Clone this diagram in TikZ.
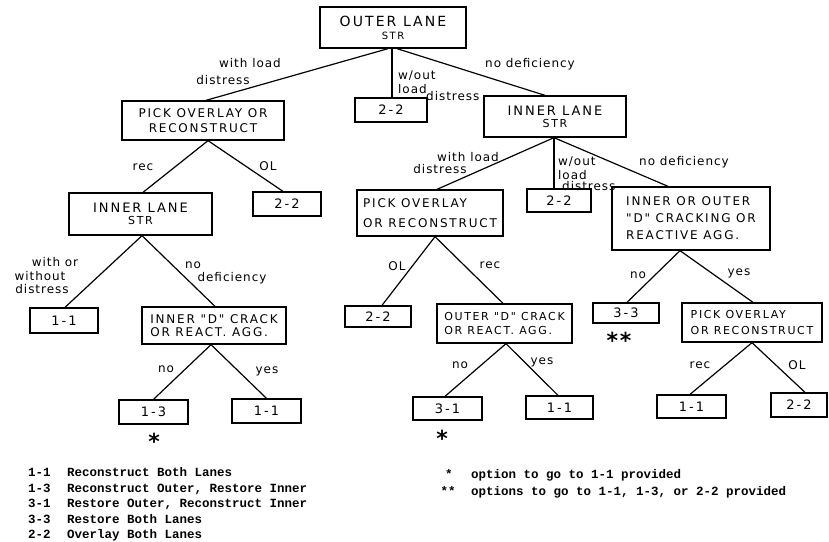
\documentclass[tikz,border=0pt]{standalone}
\usepackage{fontspec}
\newfontfamily\hwfont[LetterSpace=15]{DejaVu Sans}
\newfontfamily\lbfont[LetterSpace=8]{DejaVu Sans}
\newfontfamily\lgfont{Liberation Mono}
\tikzset{
  box/.style={draw, line width=1.3pt, inner sep=0pt, align=center,
    font={\hwfont\fontsize{12}{16}\selectfont}},
  boxl/.style={box, align=left},
  conn/.style={line width=1.2pt},
  lbl/.style={inner sep=0pt, font={\lbfont\fontsize{12}{14}\selectfont}},
  lblw/.style={lbl, anchor=west},
  ast/.style={inner sep=0pt, font={\lbfont\bfseries\fontsize{22}{22}\selectfont}},
  leg/.style={inner sep=0pt, anchor=base west, font={\lgfont\bfseries\fontsize{12.5}{14}\selectfont}}
}
\begin{document}
\begin{tikzpicture}[x=1pt,y=-1pt]
\useasboundingbox (0,0) rectangle (829,541);
\fill[white] (0,0) rectangle (829,541);

% level 0
\node[box, minimum width=146pt, minimum height=41pt, font={\hwfont\fontsize{14}{14}\selectfont}] (outer) at (393,27.5) {OUTER LANE\\[-1pt]{\fontsize{10}{12}\selectfont STR}};
% level 1
\node[box, minimum width=162pt, minimum height=39pt, font={\hwfont\fontsize{12}{15}\selectfont}] (pickL) at (203,120.5) {PICK OVERLAY OR\\RECONSTRUCT};
\node[box, minimum width=72pt, minimum height=24pt, font={\hwfont\fontsize{13}{15}\selectfont}] (top22) at (391,110) {2-2};
\node[box, minimum width=142pt, minimum height=41pt, font={\hwfont\fontsize{13}{13}\selectfont}] (innerR) at (555,116.5) {INNER LANE\\[-1pt]{\fontsize{11}{12}\selectfont STR}};
% level 2
\node[box, minimum width=143pt, minimum height=42pt, font={\hwfont\fontsize{13}{13}\selectfont}] (innerL) at (140.5,214) {INNER LANE\\[-1pt]{\fontsize{11}{12}\selectfont STR}};
\node[box, minimum width=68pt, minimum height=24pt, font={\hwfont\fontsize{13}{15}\selectfont}] (L22) at (287,204) {2-2};
\node[boxl, minimum width=146pt, minimum height=46pt, font={\hwfont\fontsize{12}{20}\selectfont}] (pickC) at (430,213) {PICK OVERLAY\\OR RECONSTRUCT};
\node[box, minimum width=64pt, minimum height=23pt, font={\hwfont\fontsize{13}{15}\selectfont}] (R22) at (559,200.5) {2-2};
\node[boxl, minimum width=158pt, minimum height=63pt, font={\hwfont\fontsize{12}{17}\selectfont}] (innerOuter) at (691,218.5) {INNER OR OUTER\\"D" CRACKING OR\\REACTIVE AGG.};
% level 3
\node[box, minimum width=68pt, minimum height=25pt, font={\hwfont\fontsize{13}{15}\selectfont}] (L11) at (64,320.5) {1-1};
\node[boxl, minimum width=144pt, minimum height=37pt, font={\hwfont\fontsize{12}{13}\selectfont}] (innerD) at (214,325.5) {INNER "D" CRACK\\OR REACT. AGG.};
\node[box, minimum width=66pt, minimum height=21pt, font={\hwfont\fontsize{13}{15}\selectfont}] (C22) at (378,316.5) {2-2};
\node[boxl, minimum width=135pt, minimum height=39pt, font={\hwfont\fontsize{11}{14}\selectfont}] (outerD) at (504.5,323.5) {OUTER "D" CRACK\\OR REACT. AGG.};
\node[box, minimum width=66pt, minimum height=20pt, font={\hwfont\fontsize{13}{15}\selectfont}] (B33) at (626,313) {3-3};
\node[boxl, minimum width=140pt, minimum height=39pt, font={\hwfont\fontsize{11}{16}\selectfont}] (pickR) at (752,322.5) {PICK OVERLAY\\OR RECONSTRUCT};
% level 4
\node[box, minimum width=69pt, minimum height=24pt, font={\hwfont\fontsize{13}{15}\selectfont}] (L13) at (153.5,412) {1-3};
\node[box, minimum width=69pt, minimum height=24pt, font={\hwfont\fontsize{13}{15}\selectfont}] (L11b) at (266.5,411) {1-1};
\node[box, minimum width=69pt, minimum height=23pt, font={\hwfont\fontsize{13}{15}\selectfont}] (B31) at (447.5,408.5) {3-1};
\node[box, minimum width=67pt, minimum height=23pt, font={\hwfont\fontsize{13}{15}\selectfont}] (B11) at (559.5,407.5) {1-1};
\node[box, minimum width=69pt, minimum height=23pt, font={\hwfont\fontsize{13}{15}\selectfont}] (R11) at (691.5,406.5) {1-1};
\node[box, minimum width=56pt, minimum height=24pt, font={\hwfont\fontsize{13}{15}\selectfont}] (R22b) at (799,405) {2-2};

% connectors
\draw[conn] ([xshift=-5pt]outer.south) -- ([xshift=3pt]pickL.north);
\draw[conn] ([xshift=-1pt]outer.south) -- ([xshift=1pt]top22.north);
\draw[conn] ([xshift=4pt]outer.south) -- ([xshift=-10pt]innerR.north);
\draw[conn] ([xshift=5pt]pickL.south) -- ([xshift=2.5pt]innerL.north);
\draw[conn] ([xshift=5pt]pickL.south) -- ([xshift=-4pt]L22.north);
\draw[conn] ([xshift=-1pt]innerR.south) -- ([xshift=7pt]pickC.north);
\draw[conn] ([xshift=-1pt]innerR.south) -- ([xshift=-5pt]R22.north);
\draw[conn] ([xshift=-1pt]innerR.south) -- ([xshift=-23pt]innerOuter.north);
\draw[conn] ([xshift=1.5pt]innerL.south) -- ([xshift=1pt]L11.north);
\draw[conn] ([xshift=1.5pt]innerL.south) -- ([xshift=1pt]innerD.north);
\draw[conn] ([xshift=5pt]pickC.south) -- ([xshift=4pt]C22.north);
\draw[conn] ([xshift=5pt]pickC.south) -- ([xshift=-1.5pt]outerD.north);
\draw[conn] ([xshift=-11pt]innerOuter.south) -- ([xshift=1pt]B33.north);
\draw[conn] ([xshift=-11pt]innerOuter.south) -- ([xshift=1pt]pickR.north);
\draw[conn] ([xshift=-3pt]innerD.south) -- (L13.north);
\draw[conn] ([xshift=-3pt]innerD.south) -- (L11b.north);
\draw[conn] ([xshift=1.5pt]outerD.south) -- ([xshift=-2.5pt]B31.north);
\draw[conn] ([xshift=1.5pt]outerD.south) -- ([xshift=-1.5pt]B11.north);
\draw[conn] (pickR.south) -- ([xshift=-1.5pt]R11.north);
\draw[conn] (pickR.south) -- ([xshift=6pt]R22b.north);

% labels
\node[lbl] (l1a) at (250,63) {with load};
\node[lbl] (l1b) at (223,80) {distress};
\node[lblw] (l2a) at (398,76) {w/out};
\node[lblw] (l2b) at (398,89) {load};
\node[lblw] (l2c) at (426,96) {distress};
\node[lbl] (l3) at (530,64) {no deficiency};
\node[lbl] (l4a) at (143,167) {rec};
\node[lbl] (l4b) at (268,166) {OL};
\node[lbl] (l5a) at (468,157) {with load};
\node[lbl] (l5b) at (440,169) {distress};
\node[lblw] (l6a) at (558,162) {w/out};
\node[lblw] (l6b) at (558,175) {load};
\node[lblw] (l6c) at (562,186) {distress};
\node[lbl] (l7) at (684,162) {no deficiency};
\node[lbl] (l8a) at (55,262) {with or};
\node[lbl] (l8b) at (40,276) {without};
\node[lbl] (l8c) at (42,289) {distress};
\node[lbl] (l9a) at (193,265) {no};
\node[lbl] (l9b) at (232,278) {deficiency};
\node[lbl] (l10a) at (397,266) {OL};
\node[lbl] (l10b) at (490,265) {rec};
\node[lbl] (l11a) at (638,275) {no};
\node[lbl] (l11b) at (739,273) {yes};
\node[lbl] (l12a) at (166,369) {no};
\node[lbl] (l12b) at (267,371) {yes};
\node[lbl] (l13a) at (460,365) {no};
\node[lbl] (l13b) at (542,362) {yes};
\node[lbl] (l14a) at (700,365) {rec};
\node[lbl] (l14b) at (797,365) {OL};
\node[ast] (s1) at (154,441) {*};
\node[ast] (s2) at (442,438) {*};
\node[ast] (s3) at (619,340) {**};

% legend
\node[leg] (c1) at (28,476) {1-1};
\node[leg] (d1) at (67,476) {Reconstruct Both Lanes};
\node[leg] (c2) at (28,492) {1-3};
\node[leg] (d2) at (67,492) {Reconstruct Outer, Restore Inner};
\node[leg] (c3) at (28,507) {3-1};
\node[leg] (d3) at (67,507) {Restore Outer, Reconstruct Inner};
\node[leg] (c4) at (28,523) {3-3};
\node[leg] (d4) at (67,523) {Restore Both Lanes};
\node[leg] (c5) at (28,538) {2-2};
\node[leg] (d5) at (67,538) {Overlay Both Lanes};
\node[leg] (e1) at (445,478) {*};
\node[leg] (f1) at (471,478) {option to go to 1-1 provided};
\node[leg] (e2) at (440.5,495) {**};
\node[leg] (f2) at (471,495) {options to go to 1-1, 1-3, or 2-2 provided};
\end{tikzpicture}
\end{document}
